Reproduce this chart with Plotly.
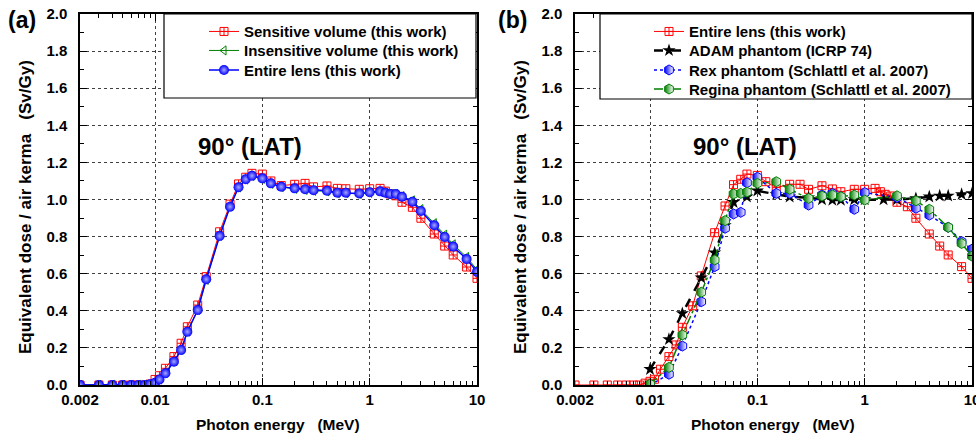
import plotly.graph_objects as go

# ---------------- data ----------------
energy = [0.002, 0.003, 0.004, 0.005, 0.006, 0.007, 0.008, 0.009, 0.01, 0.011, 0.0125,
          0.015, 0.0175, 0.02, 0.025, 0.03, 0.04, 0.05, 0.06, 0.07, 0.08, 0.1, 0.12,
          0.15, 0.2, 0.25, 0.3, 0.4, 0.5, 0.6, 0.8, 1.0, 1.25, 1.4, 1.55, 1.75, 2.0,
          2.5, 3.0, 4.0, 5.0, 6.0, 8.0, 10.0]

sensitive = [0.0, 0.0, 0.0, 0.0, 0.0, 0.0, 0.0, 0.005, 0.03, 0.05, 0.09,
             0.153, 0.225, 0.314, 0.431, 0.584, 0.826, 0.975, 1.084, 1.12, 1.141, 1.137, 1.10,
             1.075, 1.082, 1.087, 1.068, 1.073, 1.060, 1.058, 1.055, 1.058, 1.06, 1.045, 1.03, 1.02, 0.985,
             0.958, 0.899, 0.814, 0.749, 0.701, 0.636, 0.575]

insensitive = [0.0, 0.0, 0.0, 0.0, 0.0, 0.0, 0.0, 0.003, 0.015, 0.03, 0.065,
               0.128, 0.19, 0.288, 0.405, 0.567, 0.805, 0.962, 1.066, 1.108, 1.127, 1.112, 1.085,
               1.067, 1.058, 1.052, 1.047, 1.044, 1.034, 1.034, 1.03, 1.036, 1.042, 1.036, 1.03, 1.03, 1.018,
               0.995, 0.948, 0.872, 0.81, 0.758, 0.69, 0.622]

entire = [0.0, 0.0, 0.0, 0.0, 0.0, 0.0, 0.0, 0.004, 0.012, 0.03, 0.063,
          0.126, 0.189, 0.287, 0.404, 0.57, 0.803, 0.961, 1.066, 1.109, 1.128, 1.114, 1.087,
          1.069, 1.06, 1.055, 1.05, 1.047, 1.037, 1.037, 1.033, 1.039, 1.044, 1.037, 1.03, 1.03, 1.015,
          0.988, 0.938, 0.861, 0.798, 0.746, 0.679, 0.611]

entire_b = [0.0, 0.0, 0.0, 0.0, 0.0, 0.0, 0.0, 0.01, 0.02, 0.031, 0.085,
            0.153, 0.216, 0.311, 0.427, 0.588, 0.821, 0.965, 1.080, 1.109, 1.137, 1.130, 1.096,
            1.064, 1.082, 1.082, 1.055, 1.074, 1.057, 1.042, 1.055, 1.055, 1.060, 1.042, 1.028, 1.019, 0.985,
            0.961, 0.899, 0.814, 0.749, 0.701, 0.638, 0.575]

adam_energy = [0.01, 0.015, 0.02, 0.03, 0.04, 0.05, 0.06, 0.08, 0.1, 0.15, 0.2, 0.3, 0.4,
               0.5, 0.6, 0.8, 1.0, 1.5, 2.0, 3.0, 4.0, 5.0, 6.0, 8.0, 10.0]
adam = [0.085, 0.246, 0.386, 0.578, 0.713, 0.86, 0.985, 1.015, 1.047, 1.028, 1.015, 1.01, 1.0,
        0.997, 0.997, 1.0, 1.0, 1.0, 1.0, 1.006, 1.015, 1.02, 1.02, 1.028, 1.033]

schlattl_energy = [0.01, 0.015, 0.02, 0.03, 0.04, 0.05, 0.06, 0.07, 0.08, 0.1, 0.15, 0.2,
                   0.3, 0.4, 0.5, 0.6, 0.8, 1.0, 2.0, 3.0, 4.0, 6.0, 8.0, 10.0]
rex = [0.0, 0.058, 0.21, 0.449, 0.638, 0.845, 0.922, 0.931, 1.09, 1.12, 1.033, 1.033,
       0.970, 1.024, 1.033, 1.015, 0.947, 1.037, 1.011, 0.953, 0.916, 0.850, 0.773, 0.732]
regina = [0.005, 0.095, 0.27, 0.50, 0.674, 0.886, 1.03, 1.033, 1.04, 1.087, 1.096, 1.055,
          1.006, 1.019, 1.024, 1.015, 1.024, 0.997, 1.02, 0.993, 0.947, 0.850, 0.763, 0.695]

x_tickvals = [0.002, 0.01, 0.1, 1, 10]
x_ticktext = ["0.002", "0.01", "0.1", "1", "10"]
x_minor = [0.003, 0.004, 0.005, 0.006, 0.007, 0.008, 0.009,
           0.02, 0.03, 0.04, 0.05, 0.06, 0.07, 0.08, 0.09,
           0.2, 0.3, 0.4, 0.5, 0.6, 0.7, 0.8, 0.9,
           2, 3, 4, 5, 6, 7, 8, 9]

FONT = "Arial, Liberation Sans, Helvetica, sans-serif"
W, H = 976, 436


def px_x(p):
    return p / W


def px_y(p):
    return 1 - p / H


fig = go.Figure()

# ---------------- panel (a) ----------------
fig.add_trace(go.Scatter(
    x=energy, y=sensitive, mode="lines+markers", name="Sensitive volume (this work)",
    line=dict(color="#ff0000", width=1),
    marker=dict(symbol="square-cross-open", size=8, color="#ff0000", line=dict(width=1)),
    xaxis="x", yaxis="y", legend="legend8"))
fig.add_trace(go.Scatter(
    x=energy, y=insensitive, mode="lines+markers", name="Insensitive volume (this work)",
    line=dict(color="#008000", width=1),
    marker=dict(symbol="triangle-left-open", size=8, color="#008000", line=dict(width=1)),
    xaxis="x", yaxis="y", legend="legend2"))
fig.add_trace(go.Scatter(
    x=energy, y=entire, mode="lines+markers", name="Entire lens (this work)",
    line=dict(color="#0000ff", width=1.5),
    marker=dict(symbol="circle", size=10, color="#0000ff",
                gradient=dict(type="radial", color="#a8a8ff"), line=dict(width=0)),
    xaxis="x", yaxis="y", legend="legend3"))

# ---------------- panel (b) ----------------
fig.add_trace(go.Scatter(
    x=energy, y=entire_b, mode="lines+markers", name="Entire lens (this work)",
    line=dict(color="#ff0000", width=1),
    marker=dict(symbol="square-cross-open", size=8, color="#ff0000", line=dict(width=1)),
    xaxis="x2", yaxis="y2", legend="legend4"))
fig.add_trace(go.Scatter(
    x=adam_energy, y=adam, mode="lines+markers", name="ADAM phantom (ICRP 74)",
    line=dict(color="#000000", width=2.5, dash="dash"),
    marker=dict(symbol="star", size=10, color="#000000", line=dict(width=0)),
    xaxis="x2", yaxis="y2", legend="legend5"))
fig.add_trace(go.Scatter(
    x=schlattl_energy, y=rex, mode="lines+markers", name="Rex phantom (Schlattl et al. 2007)",
    line=dict(color="#0000ff", width=1.5, dash="dot"),
    marker=dict(symbol="hexagon", size=10, color="#0000ff",
                gradient=dict(type="horizontal", color="#ffffff"),
                line=dict(width=1, color="#0000ff")),
    xaxis="x2", yaxis="y2", legend="legend6"))
fig.add_trace(go.Scatter(
    x=schlattl_energy, y=regina, mode="lines+markers", name="Regina phantom (Schlattl et al. 2007)",
    line=dict(color="#008000", width=1.5, dash="dashdot"),
    marker=dict(symbol="hexagon", size=10, color="#008000",
                gradient=dict(type="horizontal", color="#ffffff"),
                line=dict(width=1, color="#008000")),
    xaxis="x2", yaxis="y2", legend="legend7"))

# ---------------- axes ----------------
ydom = [px_y(385), px_y(14)]
tickfont = dict(family=FONT, size=15, color="black", weight="bold")


def xaxis_cfg(dom, anchor):
    return dict(
        type="log", range=[-2.69897, 1], domain=dom, anchor=anchor, automargin=False,
        tickvals=x_tickvals, ticktext=x_ticktext, tickfont=tickfont, ticklabelstandoff=0,
        ticklabeloverflow="allow",
        ticks="inside", ticklen=7, tickwidth=1, tickcolor="black",
        minor=dict(tickvals=x_minor, ticks="inside", ticklen=4, tickcolor="black", showgrid=False),
        showline=True, linecolor="black", linewidth=1.5, mirror="ticks",
        showgrid=True, gridcolor="rgba(0,0,0,0.75)", griddash="dot", gridwidth=1,
        zeroline=False)


def yaxis_cfg(anchor):
    return dict(
        range=[0, 2], domain=ydom, anchor=anchor, automargin=False,
        dtick=0.2, tick0=0, tickformat=".1f", tickfont=tickfont, ticklabelstandoff=8,
        ticklabeloverflow="allow",
        ticks="inside", ticklen=7, tickwidth=1, tickcolor="black",
        minor=dict(dtick=0.1, ticks="inside", ticklen=4, tickcolor="black", showgrid=False),
        showline=True, linecolor="black", linewidth=1.5, mirror="ticks",
        showgrid=True, gridcolor="rgba(0,0,0,0.75)", griddash="dot", gridwidth=1,
        zeroline=False)


legfont = dict(family=FONT, size=15, color="black", weight="bold")


def leg(x, y):
    return dict(x=px_x(x), y=px_y(y), xanchor="left", yanchor="middle",
                bgcolor="rgba(0,0,0,0)", borderwidth=0, font=legfont,
                tracegroupgap=0, itemwidth=30, visible=True)


def ann(text, x, y, font, angle=0):
    return dict(text=text, x=px_x(x), y=px_y(y), xref="paper", yref="paper",
                xanchor="center", yanchor="middle", textangle=angle,
                showarrow=False, font=font)


def bold(size):
    return dict(family=FONT, size=size, color="black", weight="bold")


rows = [31.7, 50.7, 70.2, 89.3]

fig.update_layout(
    width=W, height=H,
    margin=dict(l=0, r=0, t=0, b=0, autoexpand=False),
    paper_bgcolor="white", plot_bgcolor="white",
    xaxis=xaxis_cfg([px_x(80), px_x(477)], "y"),
    yaxis=yaxis_cfg("x"),
    xaxis2=xaxis_cfg([px_x(575), px_x(972)], "y2"),
    yaxis2=yaxis_cfg("x2"),
    legend8=leg(204, rows[0]),
    legend2=leg(204, rows[1]),
    legend3=leg(204, rows[2]),
    legend4=leg(649, rows[0]),
    legend5=leg(649, rows[1]),
    legend6=leg(649, rows[2]),
    legend7=leg(649, rows[3]),
    shapes=[
        dict(type="rect", xref="paper", yref="paper",
             x0=px_x(164), x1=px_x(476), y0=px_y(98), y1=px_y(14),
             line=dict(color="black", width=1.2), fillcolor="white", layer="above"),
        dict(type="rect", xref="paper", yref="paper",
             x0=px_x(600), x1=px_x(972), y0=px_y(99), y1=px_y(14),
             line=dict(color="black", width=1.2), fillcolor="white", layer="above"),
    ],
    annotations=[
        ann("(a)", 22, 20, bold(23)),
        ann("(b)", 512, 20, bold(23)),
        ann("90° (LAT)", 250, 146, bold(24)),
        ann("90° (LAT)", 745, 146, bold(24)),
        ann("Equivalent dose / air kerma \u00a0 (Sv/Gy)", 25, 207, bold(17), -90),
        ann("Equivalent dose / air kerma \u00a0 (Sv/Gy)", 520, 207, bold(17), -90),
        ann("Photon energy \u00a0 (MeV)", 278, 424, bold(15.5)),
        ann("Photon energy \u00a0 (MeV)", 773, 424, bold(15.5)),
    ],
)

fig.write_html("out.html",
               config={"displayModeBar": False},
               post_script="document.body.style.margin='0';document.body.style.overflow='hidden';")
